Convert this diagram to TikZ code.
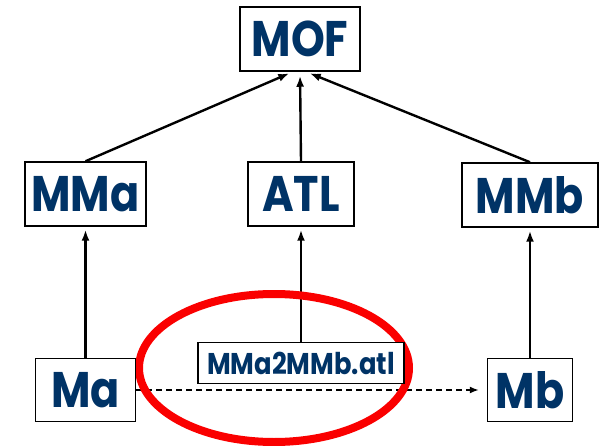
\documentclass[tikz,border=0pt]{standalone}
\usepackage{fontspec}
\setmainfont{Poppins}[FakeStretch=0.86]
\usepackage{tikz}
\usetikzlibrary{positioning,backgrounds,arrows.meta}
\definecolor{mmblue}{RGB}{0,51,102}
\definecolor{ringred}{RGB}{250,0,0}

\begin{document}
\begin{tikzpicture}[x=1pt, y=-1pt, every node/.style={rectangle, draw, fill=white, line width=1.5pt, text=mmblue, inner sep=0pt, minimum height=64pt, font=\fontsize{50}{56}\selectfont\bfseries}, conf/.style={-{Latex[length=11pt,width=8pt]}, line width=2.4pt}]
	\useasboundingbox (0,0) rectangle (602,446);
	\node[minimum width=120pt] (mof) at (300,39) {MOF};
	\node[minimum width=121pt] (mma) at (85.5,194) {MMa};
	\node[minimum width=106pt] (atl) at (301,194) {ATL};
	\node[minimum width=136pt] (mmb) at (530,195) {MMb};
	\node[minimum width=100pt, minimum height=63pt, below=131pt of mma] (ma) {Ma};
	\node[minimum width=85pt, minimum height=63pt, below=130pt of mmb] (mb) {Mb};
	\node[minimum width=206pt, minimum height=41pt, font=\fontsize{30}{34}\selectfont\bfseries, below=115pt of atl] (trafo) {MMa2MMb.atl};
	\begin{pgfonlayer}{background}
	\draw[conf, shorten >=4pt] (mma.north) -> ([xshift=-7pt]mof.south);
	\draw[conf, shorten >=4pt] (atl.north) -> (mof.south);
	\draw[conf, shorten >=4pt] (mmb.north) -> ([xshift=6pt]mof.south);
	\draw[conf, shorten >=3pt] (ma.north) -> (ma.north |- mma.south);
	\draw[conf, shorten >=3pt] (trafo.north) -> (trafo.north |- atl.south);
	\draw[conf, shorten >=3pt] (mb.north) -> (mb.north |- mmb.south);
	\draw[-{Latex[length=9pt,width=7pt]}, line width=1.4pt, dash pattern=on 6pt off 4pt, shorten >=8pt] (ma.east) -> (mb.west);
	% the ring round the transformation
	\draw[ringred, line width=8pt] (274,368) ellipse [x radius=135pt, y radius=74pt];
	\end{pgfonlayer}
\end{tikzpicture}
\end{document}
